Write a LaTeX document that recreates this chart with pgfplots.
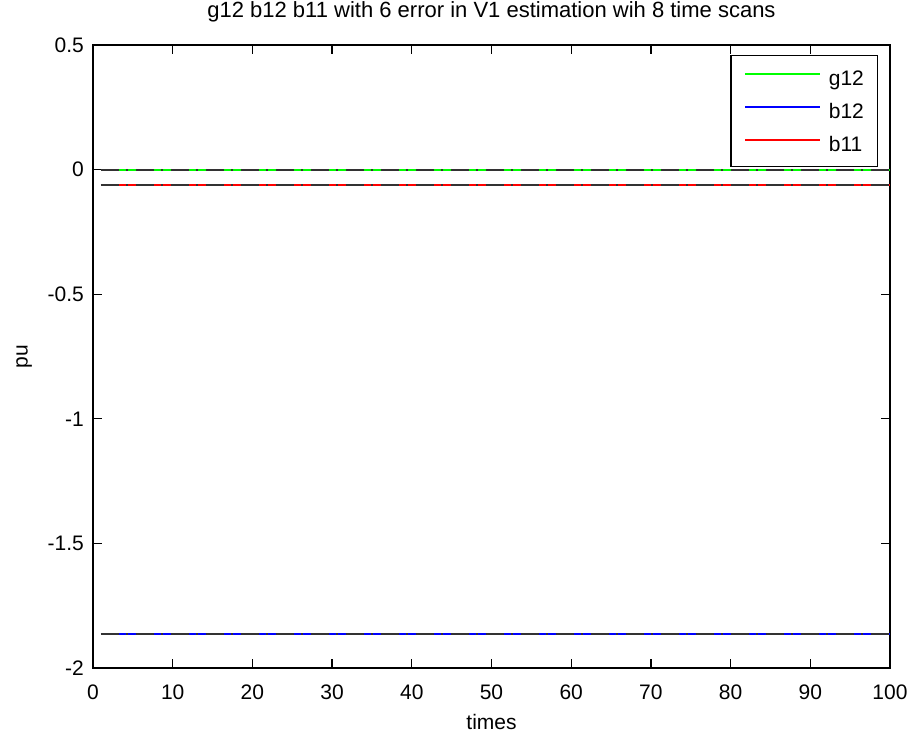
\documentclass[border=0pt]{standalone}
\usepackage{fontspec}
\setmainfont{Liberation Sans}
\usepackage{pgfplots}
\pgfplotsset{compat=1.18}
\begin{document}
\begin{tikzpicture}[x=1pt,y=1pt]
\useasboundingbox (-93,-72) rectangle (823,668);
\begin{axis}[
  at={(0,0)}, anchor=south west,
  scale only axis, width=797pt, height=623pt,
  xmin=0, xmax=100, ymin=-2, ymax=0.5,
  xtick={0,10,20,30,40,50,60,70,80,90,100},
  xticklabels={0,10,20,30,40,50,60,70,80,90,100},
  ytick={-2,-1.5,-1,-0.5,0,0.5},
  yticklabels={-2,-1.5,-1,-0.5,0,0.5},
  major tick length=9pt,
  axis line style={line width=1.3pt},
  every tick/.style={black, line width=1.3pt},
  tick label style={font=\fontsize{21}{21}\selectfont},
  xticklabel style={anchor=base, inner sep=0pt, yshift=-31pt},
  yticklabel style={anchor=east, inner sep=0pt, xshift=-9pt},
  title={g12 b12 b11 with 6 error in V1 estimation wih 8 time scans},
  title style={at={(axis description cs:0.5,1.0353)}, anchor=base, inner sep=0pt, font=\fontsize{22}{22}\selectfont},
  xlabel={times},
  xlabel style={at={(axis description cs:0.5,-0.0995)}, anchor=base, inner sep=0pt, font=\fontsize{21}{21}\selectfont},
  ylabel={pu},
  ylabel style={at={(axis description cs:-0.082,0.5)}, anchor=base, inner sep=0pt, font=\fontsize{21}{21}\selectfont},
  legend style={at={(axis description cs:0.985,0.984)}, anchor=north east, draw=black, line width=1.3pt, fill=white,
    font=\fontsize{21}{21}\selectfont, inner xsep=13.5pt, inner ysep=10pt, row sep=8pt, column sep=8pt,
    nodes={inner sep=0pt, text height=20pt, text depth=5pt}},
  legend cell align=left,
  legend image code/.code={\path[draw=none] (0pt,-4pt) -- (0pt,4pt); \draw[#1, line width=1.5pt] (0pt,4pt) -- (75pt,4pt);},
]
\addplot[green, line width=2pt] coordinates {(1,0) (100,0)};
\addlegendentry{g12}
\addplot[blue, line width=2pt] coordinates {(1,-1.865) (100,-1.865)};
\addlegendentry{b12}
\addplot[red, line width=2pt] coordinates {(1,-0.06) (100,-0.06)};
\addlegendentry{b11}
\addplot[black!80, line width=2pt, dash pattern=on 18pt off 7.5pt on 2pt off 7.5pt, forget plot] coordinates {(1,0) (100,0)};
\addplot[black!80, line width=2pt, dash pattern=on 18pt off 7.5pt on 2pt off 7.5pt, forget plot] coordinates {(1,-1.865) (100,-1.865)};
\addplot[black!80, line width=2pt, dash pattern=on 18pt off 7.5pt on 2pt off 7.5pt, forget plot] coordinates {(1,-0.06) (100,-0.06)};
\end{axis}
\end{tikzpicture}
\end{document}
